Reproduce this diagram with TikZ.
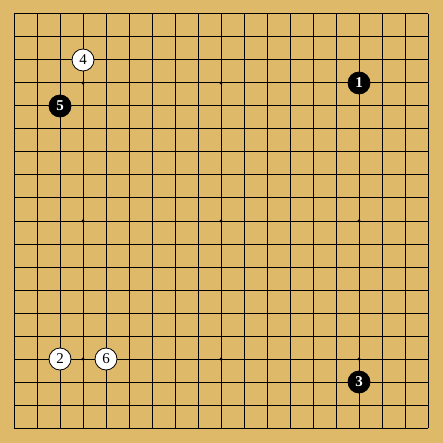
\documentclass[tikz,border=0pt]{standalone}
\usepackage{fontspec}
\setmainfont{Liberation Serif}
\definecolor{board}{RGB}{222,185,106}
\begin{document}
\begin{tikzpicture}[x=1pt,y=-1pt,
  gridline/.style={black,line width=1pt},
  starpt/.style={circle,fill=black,inner sep=0pt,minimum size=3.2pt},
  wstone/.style={circle,draw=black,line width=0.8pt,fill=white,inner sep=0pt,minimum size=22pt,font=\fontsize{15}{15}\selectfont,text=black},
  bstone/.style={circle,draw=black,line width=0.8pt,fill=black,inner sep=0pt,minimum size=22pt,font=\fontsize{15}{15}\selectfont\bfseries,text=white}]
\fill[board] (0,0) rectangle (443,443);
\useasboundingbox (0,0) rectangle (443,443);
\foreach \i in {0,...,18} {
  \draw[gridline] (14+23*\i,14) -- (14+23*\i,428);
  \draw[gridline] (14,14+23*\i) -- (428,14+23*\i);
}
\foreach \a in {3,9,15} \foreach \b in {3,9,15}
  \node[starpt] (s\a\b) at (14+23*\a,14+23*\b) {};
\node[bstone] (m1) at (14+23*15,14+23*3) {1};
\node[wstone] (m2) at (14+23*2,14+23*15) {2};
\node[bstone] (m3) at (14+23*15,14+23*16) {3};
\node[wstone] (m4) at (14+23*3,14+23*2) {4};
\node[bstone] (m5) at (14+23*2,14+23*4) {5};
\node[wstone] (m6) at (14+23*4,14+23*15) {6};
\end{tikzpicture}
\end{document}
